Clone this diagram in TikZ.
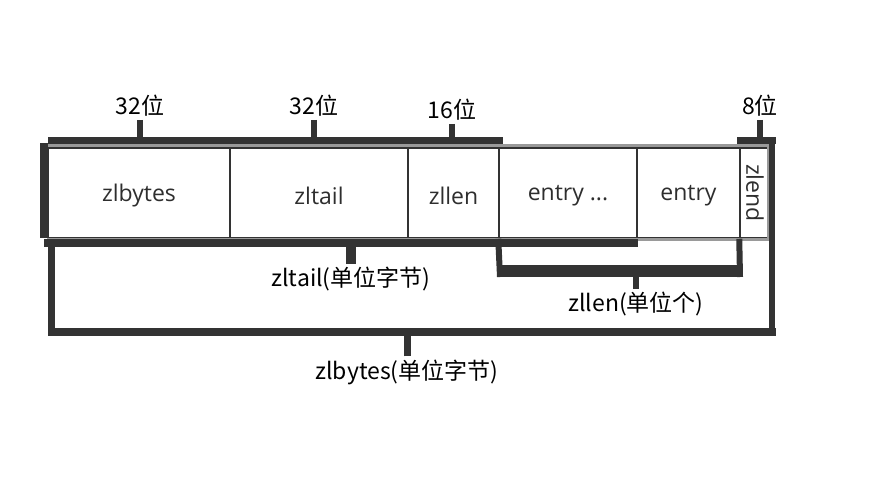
\documentclass[tikz,border=0pt]{standalone}
\usepackage{fontspec}
\setmainfont{Open Sans}
\newfontfamily\cjk{Noto Sans CJK SC}
\definecolor{brk}{HTML}{333333}
\definecolor{edge}{HTML}{9A9A9A}
\definecolor{txt}{HTML}{2E2E2E}
\tikzset{
  cell/.style={draw=brk, line width=1.5pt, rectangle, inner sep=0pt, minimum height=90pt, text=txt, font=\fontsize{23}{26}\selectfont},
  celltext/.style={text=txt, font=\fontsize{23}{26}\selectfont, inner sep=0pt},
  bar/.style={draw=brk, line width=7pt},
  lbl/.style={inner sep=0pt, text=black, font=\cjk\fontsize{23}{25}\selectfont},
  rim/.style={draw=edge, line width=3pt}
}
\begin{document}
\begin{tikzpicture}[x=1pt,y=-1pt]
\useasboundingbox[fill=white] (0,0) rectangle (872,503);
% cells
\node[cell, minimum width=182pt] (b1) at (139,193) {};
\node[cell, minimum width=178pt] (b2) at (319,193) {};
\node[cell, minimum width=91pt]  (b3) at (453.5,193) {};
\node[cell, minimum width=138pt] (b4) at (568,193) {};
\node[cell, minimum width=103pt] (b5) at (688.5,193) {};
\node[cell, minimum width=30pt]  (b6) at (755,193) {};
\node[celltext] (t1) at ([yshift=-3pt]b1.center) {zlbytes};
\node[celltext] (t2) at ([yshift=-3pt]b2.center) {zltail};
\node[celltext] (t3) at ([yshift=-3pt]b3.center) {zllen};
\node[celltext] (t4) at ([yshift=-3pt]b4.center) {entry ...};
\node[celltext] (t5) at ([yshift=-3pt]b5.center) {entry};
\node[celltext, rotate=-90] (zlend) at (b6.center) {zlend};
% light rims
\draw[rim] (b1.north west) ++(0,-2) -- ([yshift=2pt]b6.north east);
\draw[rim] (b1.south west) ++(0,1) -- ([yshift=-1pt]b6.south east);
\draw[rim] ([xshift=-2pt]b6.north east) -- ([xshift=-2pt]b6.south east);
% labels
\node[lbl] (l1) at (140,106) {32位};
\node[lbl] (l2) at (314,106) {32位};
\node[lbl] (l3) at (452,110) {16位};
\node[lbl] (l4) at (760,106) {8位};
\node[lbl] (l5) at (351,279) {zltail(单位字节)};
\node[lbl] (l6) at (636,304) {zllen(单位个)};
\node[lbl] (l7) at (407,372) {zlbytes(单位字节)};
% coordinates
\coordinate (tl) at (48,140);
\coordinate (tr) at (503,140);
\coordinate (zl) at (737,140);
\coordinate (zr) at (776,140);
% top bracket over zlbytes, zltail, zllen
\draw[bar] (tl) -- (tr);
\draw[bar, line width=6pt] ([yshift=-3pt]l1.south) -- (l1.south |- tl);
\draw[bar, line width=6pt] ([yshift=-3pt]l2.south) -- (l2.south |- tl);
\draw[bar, line width=6pt] ([yshift=-3pt]l3.south) -- (l3.south |- tl);
\draw[bar, line width=8pt] (44,143) -- (44,238);
% zlend bracket
\draw[bar] (zl) -- (zr);
\draw[bar, line width=6pt] ([yshift=-3pt]l4.south) -- (l4.south |- zl);
% zlbytes bracket
\draw[bar, line width=6pt] (772,137) -- (772,336);
\draw[bar, line width=8pt] (48,332) -- (776,332);
\draw[bar] (51.5,240) -- (51.5,336);
\draw[bar] ([yshift=3pt]l7.north) -- (l7.north |- 0,332);
% zltail bracket
\draw[bar, line width=8pt] (44,243) -- (638,243);
\draw[bar, line width=10pt] ([yshift=3pt]l5.north) -- (l5.north |- 0,243);
% zllen bracket
\draw[bar, line width=6pt] (b4.south west) -- (500,277);
\draw[bar, line width=6pt] (b6.south west) -- (740,277);
\draw[bar, line width=12pt] (497,271) -- (743,271);
\draw[bar, line width=6pt] ([yshift=3pt]l6.north) -- (l6.north |- 0,271);
\end{tikzpicture}
\end{document}
